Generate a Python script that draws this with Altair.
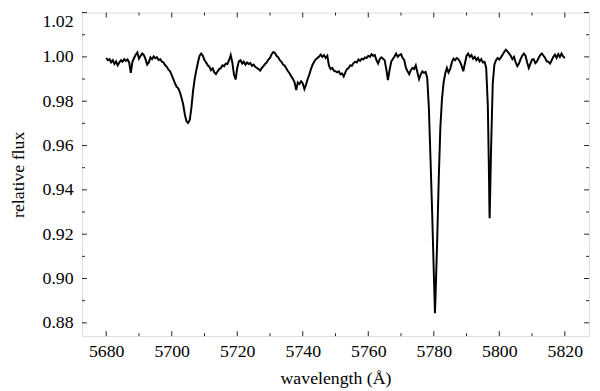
import altair as alt
import pandas as pd

# Sampling grid start / step of the spectrum (Angstrom)
LAMBDA_START = 5680.0
LAMBDA_STEP = 0.5

# Relative flux, one value per 0.5 A from 5680.0 to 5820.0
FLUX = [
    0.9995,
    0.9985, 0.9990, 0.9975, 0.9985, 0.9968, 0.9980, 0.9962, 0.9975, 0.9985, 0.9978,   # -5685
    0.9990, 0.9982, 0.9988, 0.9975, 0.9928, 0.9978, 0.9995, 1.0010, 1.0020, 0.9992,   # -5690
    1.0005, 1.0015, 1.0008, 0.9990, 0.9965, 0.9975, 0.9998, 0.9990, 1.0002, 0.9994,   # -5695
    0.9998, 0.9985, 0.9990, 0.9978, 0.9975, 0.9962, 0.9955, 0.9942, 0.9935, 0.9918,   # -5700
    0.9900, 0.9880, 0.9865, 0.9858, 0.9840, 0.9815, 0.9785, 0.9740, 0.9710, 0.9702,   # -5705
    0.9715, 0.9770, 0.9845, 0.9900, 0.9940, 0.9975, 1.0005, 1.0015, 1.0005, 0.9985,   # -5710
    0.9975, 0.9962, 0.9955, 0.9940, 0.9948, 0.9930, 0.9922, 0.9935, 0.9945, 0.9950,   # -5715
    0.9962, 0.9958, 0.9970, 0.9968, 0.9985, 1.0008, 0.9975, 0.9920, 0.9898, 0.9950,   # -5720
    0.9980, 0.9985, 0.9970, 0.9978, 0.9965, 0.9975, 0.9968, 0.9972, 0.9960, 0.9965,   # -5725
    0.9955, 0.9950, 0.9945, 0.9938, 0.9950, 0.9958, 0.9968, 0.9975, 0.9988, 0.9995,   # -5730
    1.0012, 1.0022, 1.0018, 1.0005, 0.9998, 0.9985, 0.9978, 0.9965, 0.9960, 0.9948,   # -5735
    0.9935, 0.9925, 0.9912, 0.9900, 0.9885, 0.9850, 0.9885, 0.9878, 0.9890, 0.9880,   # -5740
    0.9855, 0.9875, 0.9900, 0.9920, 0.9945, 0.9965, 0.9978, 0.9990, 0.9995, 1.0002,   # -5745
    1.0010, 1.0000, 1.0008, 0.9995, 1.0005, 0.9960, 0.9945, 0.9950, 0.9938, 0.9935,   # -5750
    0.9930, 0.9935, 0.9922, 0.9925, 0.9912, 0.9930, 0.9945, 0.9950, 0.9962, 0.9960,   # -5755
    0.9972, 0.9978, 0.9975, 0.9988, 0.9982, 0.9992, 0.9988, 0.9998, 0.9995, 1.0005,   # -5760
    1.0000, 1.0012, 1.0005, 1.0008, 0.9985, 0.9970, 0.9990, 0.9998, 0.9992, 0.9985,   # -5765
    0.9945, 0.9895, 0.9940, 0.9978, 0.9990, 1.0002, 1.0015, 1.0000, 1.0008, 1.0012,   # -5770
    0.9995, 0.9985, 0.9950, 0.9935, 0.9922, 0.9940, 0.9950, 0.9945, 0.9962, 0.9930,   # -5775
    0.9900, 0.9920, 0.9935, 0.9928, 0.9932, 0.9905, 0.9770, 0.9540, 0.9300, 0.9030,   # -5780
    0.8905, 0.9150, 0.9440, 0.9680, 0.9810, 0.9885, 0.9925, 0.9950, 0.9930, 0.9945,   # -5785
    0.9975, 0.9992, 0.9985, 0.9995, 0.9990, 0.9978, 0.9960, 0.9935, 0.9970, 1.0005,   # -5790
    1.0015, 1.0000, 1.0008, 0.9992, 1.0000, 0.9985, 0.9995, 0.9980, 0.9990, 0.9975,   # -5795
    0.9978, 0.9950, 0.9780, 0.9300, 0.9590, 0.9880, 0.9965, 0.9985, 0.9995, 0.9988,   # -5800
    0.9998, 1.0010, 1.0022, 1.0032, 1.0025, 1.0015, 1.0005, 0.9990, 1.0000, 0.9975,   # -5805
    0.9958, 0.9970, 0.9990, 1.0005, 1.0015, 1.0005, 0.9975, 0.9950, 0.9970, 0.9988,   # -5810
    0.9990, 0.9972, 0.9980, 0.9995, 1.0008, 1.0015, 1.0005, 0.9995, 0.9980, 0.9978,   # -5815
    0.9970, 0.9985, 1.0000, 1.0010, 0.9995, 1.0012, 1.0000, 1.0015, 1.0002, 0.9995,   # -5820
]

# Extra points at the cores of the two deep lines
CORE_LAMBDA = [5780.36, 5796.8, 5797.06]
CORE_FLUX = [0.8843, 0.9520, 0.9272]

X_MAJOR = [5680, 5700, 5720, 5740, 5760, 5780, 5800, 5820]
X_MINOR = [5690, 5710, 5730, 5750, 5770, 5790, 5810]
Y_MAJOR = [0.88, 0.90, 0.92, 0.94, 0.96, 0.98, 1.00, 1.02]
Y_MINOR = [0.89, 0.91, 0.93, 0.95, 0.97, 0.99, 1.01]

lam = [LAMBDA_START + LAMBDA_STEP * i for i in range(len(FLUX))] + CORE_LAMBDA
flux = FLUX + CORE_FLUX
spec = pd.DataFrame({"lam": lam, "flux": flux}).sort_values("lam")

W, H = 514, 328
FONT = "Liberation Serif"
FS = 18

xscale = alt.Scale(domain=[5672.6, 5827.4], nice=False, zero=False)
yscale = alt.Scale(domain=[0.874, 1.02], nice=False, zero=False)

xaxis = alt.Axis(values=X_MAJOR, format="d", title="wavelength (Å)",
                 grid=False, domain=False, ticks=False, tickSize=0,
                 labelPadding=7, labelFont=FONT, labelFontSize=FS,
                 labelColor="black", titleFont=FONT, titleFontSize=FS,
                 titleFontWeight="normal", titleColor="black",
                 titleY=48, titleBaseline="alphabetic")
yaxis = alt.Axis(values=Y_MAJOR, format=".2f", title="relative flux",
                 grid=False, domain=False, ticks=False, tickSize=0,
                 labelPadding=9, labelFont=FONT, labelFontSize=FS,
                 labelColor="black", labelFlush=3,
                 titleFont=FONT, titleFontSize=FS,
                 titleFontWeight="normal", titleColor="black",
                 titleX=-55)

line = alt.Chart(spec).mark_line(color="black", strokeWidth=2, clip=True).encode(
    x=alt.X("lam:Q", scale=xscale, axis=xaxis),
    y=alt.Y("flux:Q", scale=yscale, axis=yaxis),
)

TICK_COLOR = "#222"

def xticks(vals, length):
    df = pd.DataFrame({"t": vals})
    bottom = alt.Chart(df).mark_rule(color=TICK_COLOR, strokeWidth=1).encode(
        x=alt.X("t:Q", scale=xscale, axis=xaxis),
        y=alt.value(H), y2=alt.value(H - length))
    top = alt.Chart(df).mark_rule(color=TICK_COLOR, strokeWidth=1).encode(
        x=alt.X("t:Q", scale=xscale, axis=xaxis),
        y=alt.value(0), y2=alt.value(length))
    return [bottom, top]

def yticks(vals, length):
    df = pd.DataFrame({"t": vals})
    left = alt.Chart(df).mark_rule(color=TICK_COLOR, strokeWidth=1).encode(
        y=alt.Y("t:Q", scale=yscale, axis=yaxis),
        x=alt.value(0), x2=alt.value(length))
    right = alt.Chart(df).mark_rule(color=TICK_COLOR, strokeWidth=1).encode(
        y=alt.Y("t:Q", scale=yscale, axis=yaxis),
        x=alt.value(W), x2=alt.value(W - length))
    return [left, right]

layers = [line] + xticks(X_MAJOR, 5) + xticks(X_MINOR, 3) + yticks(Y_MAJOR, 5) + yticks(Y_MINOR, 3)

chart = alt.layer(*layers).properties(
    width=W, height=H,
    autosize="none",
    padding={"left": 75, "top": 2, "right": 3, "bottom": 53},
    background="white",
).configure_view(stroke="black", strokeWidth=1.2).configure_axis(
    labelFont=FONT, titleFont=FONT, labelFontSize=FS, titleFontSize=FS,
    labelColor="black", titleColor="black",
).configure(font=FONT)

chart.save("out.html", embed_options={"renderer": "svg", "actions": False})
